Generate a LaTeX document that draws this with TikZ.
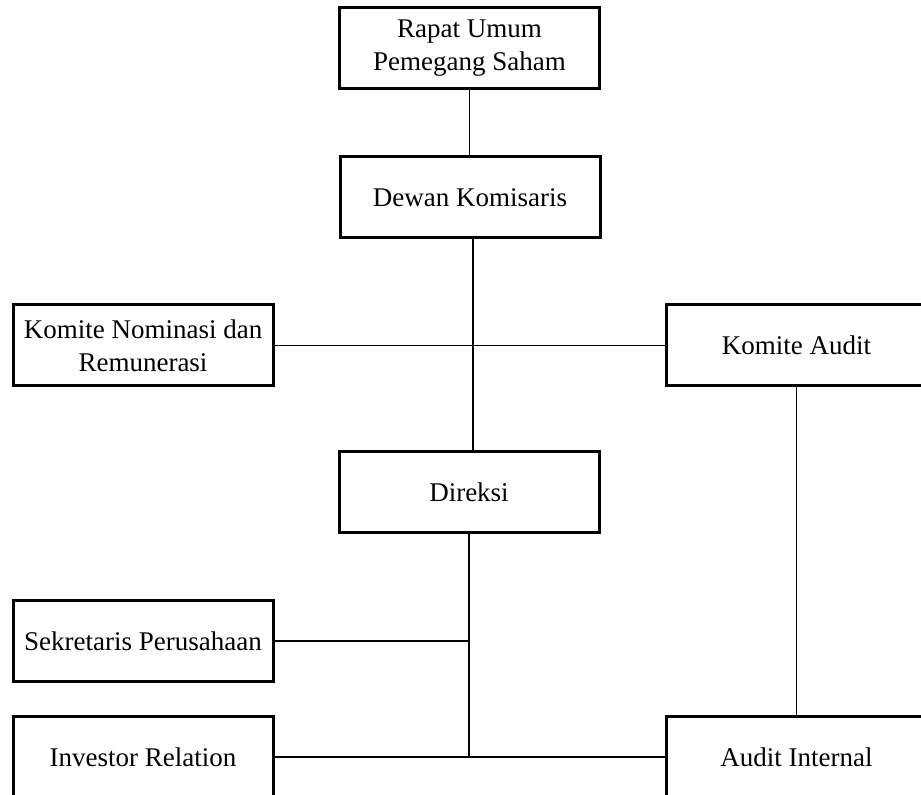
\documentclass[tikz,border=0pt]{standalone}
\usepackage{fontspec}
\setmainfont{Liberation Serif}
\usetikzlibrary{positioning}

\begin{document}
\begin{tikzpicture}[x=0.5pt,y=-0.5pt,
   kotak/.style={draw,line width=1.5pt,minimum width=130pt,minimum height=40.5pt,
    align=center,inner sep=1pt,font=\fontsize{13.5}{16.5}\selectfont},
   garis/.style={line width=0.8pt}]
   \useasboundingbox (0,0) rectangle (921,795);
   % struktur utama
   \node[kotak] (rups) at (469.5,48.5) {Rapat Umum\\Pemegang Saham};
   \node[kotak] (dewan) at (470,197.5) {Dewan Komisaris};
   \node[kotak] (direksi) at (469,492.5) {Direksi};
   % komite
   \node[kotak] (nominasi) at (143,345.5) {Komite Nominasi dan\\Remunerasi};
   \node[kotak] (kaudit) at (796.5,345.5) {Komite Audit};
   % di bawah direksi
   \node[kotak] (sekretaris) at (143,641) {Sekretaris Perusahaan};
   \node[kotak] (investor) at (143,757) {Investor Relation};
   \node[kotak] (ainternal) at (796.5,757) {Audit Internal};
   \coordinate (j2) at (direksi.south |- investor.east);
   \draw[garis] (rups.south) -- (rups.south |- dewan.north);
   \draw[garis] ([xshift=1.5]dewan.south) -- ([xshift=1.5]dewan.south |- direksi.north);
   \draw[garis] (nominasi.east) -- (kaudit.west);
   \draw[garis] (direksi.south) -- (j2);
   \draw[garis] (sekretaris.east) -- (sekretaris.east -| j2);
   \draw[garis] (investor.east) -- (ainternal.west);
   \draw[garis] (kaudit.south) -- (ainternal.north);
\end{tikzpicture}
\end{document}
